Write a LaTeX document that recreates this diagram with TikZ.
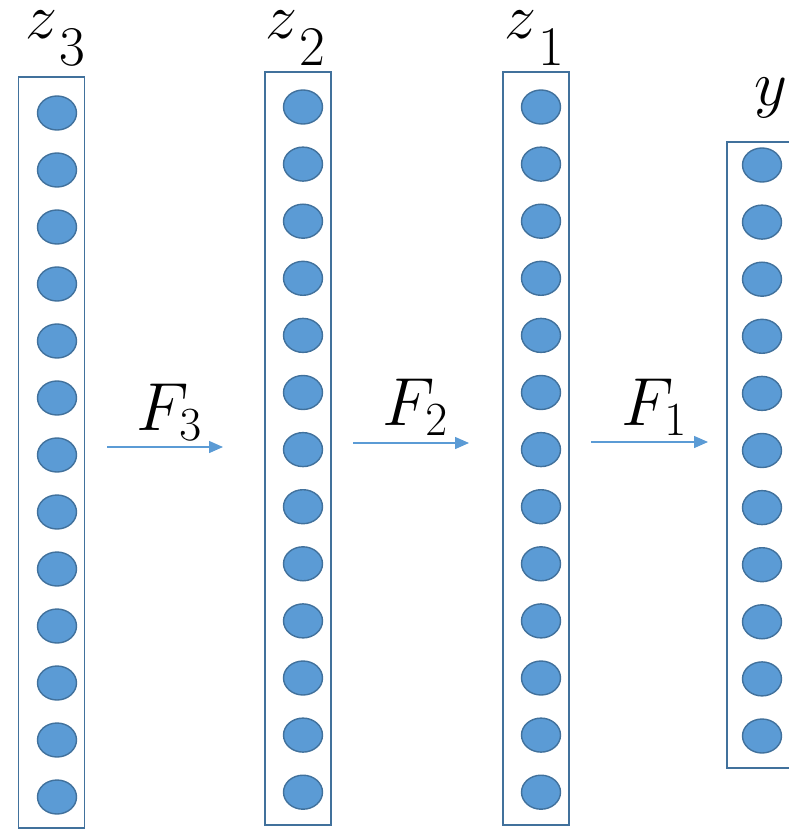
\RequirePackage{fix-cm}
\documentclass[tikz,border=0pt]{standalone}
\usetikzlibrary{positioning,shapes.geometric,arrows.meta}

\definecolor{unitfill}{HTML}{5B9BD5}
\definecolor{unitline}{HTML}{41719C}

\newcommand{\bigsub}[1]{\kern2pt\raisebox{-27pt}{\fontsize{56}{60}\selectfont #1}}

\tikzstyle{layerbox} = [draw=unitline, line width=1.6pt, minimum width=66pt, inner sep=0pt]
\tikzstyle{unitdot} = [ellipse, draw=unitline, line width=1.4pt, fill=unitfill, minimum width=39pt, minimum height=34pt, inner sep=0pt]
\tikzstyle{lname} = [font=\fontsize{64}{80}\selectfont, inner sep=0pt, anchor=base west]
\tikzstyle{fname} = [font=\fontsize{68}{80}\selectfont, inner sep=0pt, anchor=base west]
\tikzstyle{maparrow} = [draw=unitfill, line width=1.4pt, -{Triangle[length=14pt,width=12pt]}]

\begin{document}
\begin{tikzpicture}[x=1pt, y=-1pt]
\useasboundingbox (0,0) rectangle (788,829);

% the four layers
\node[layerbox, minimum height=751pt] (boxzthree) at (51.5,452.5) {};
\node[layerbox, minimum height=753pt] (boxztwo) at (298,448.5) {};
\node[layerbox, minimum height=753pt] (boxzone) at (536,448.5) {};
\node[layerbox, minimum height=626pt] (boxy) at (760,455) {};

% units
\foreach \i in {0,...,12} {
    \node[unitdot] (zthree\i) at (57,113+57*\i) {};
    \node[unitdot] (ztwo\i) at (303,107+57.1*\i) {};
    \node[unitdot] (zone\i) at (541,107+57.1*\i) {};
}
\foreach \i in {0,...,10}
    \node[unitdot] (y\i) at (762,165+57.1*\i) {};

% layer names
\node[lname] (lzthree) at (25,39) {$z$\bigsub{3}};
\node[lname] (lztwo) at (265,39) {$z$\bigsub{2}};
\node[lname] (lzone) at (504,39) {$z$\bigsub{1}};
\node[lname] (ly) at (754,106) {$y$};

% maps
\coordinate (athreea) at (107,447);
\coordinate (athreeb) at (223,447);
\coordinate (atwoa) at (353,443);
\coordinate (atwob) at (469,443);
\coordinate (aonea) at (591,442);
\coordinate (aoneb) at (708,442);

\draw[maparrow] (athreea) -- (athreeb);
\draw[maparrow] (atwoa) -- (atwob);
\draw[maparrow] (aonea) -- (aoneb);

\node[fname] (lfthree) at (136,430) {$F_3$};
\node[fname] (lftwo) at (382,425) {$F_2$};
\node[fname] (lfone) at (621,425) {$F_1$};
\end{tikzpicture}
\end{document}
